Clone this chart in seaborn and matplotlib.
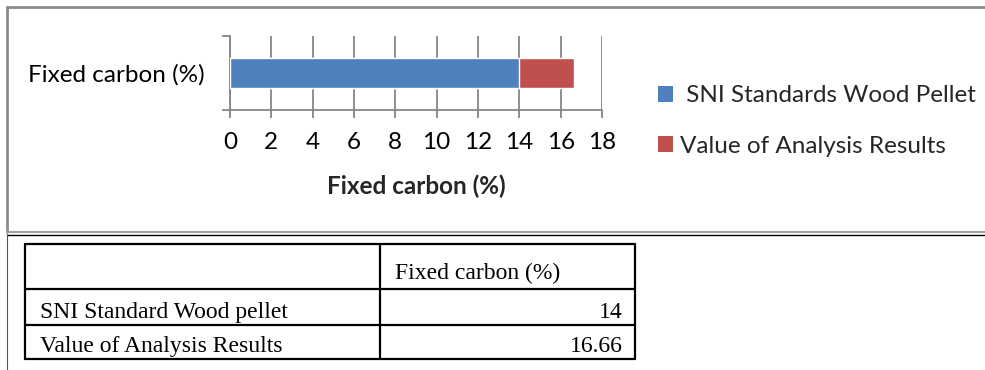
import matplotlib
matplotlib.use("Agg")
import matplotlib.pyplot as plt
from matplotlib.lines import Line2D
from matplotlib.patches import Patch
import seaborn as sns
import pandas as pd

# ---- data ----
category = ["Fixed carbon (%)"]
series = ["SNI Standards Wood Pellet", "Value of Analysis Results"]
table_rows = ["SNI Standard Wood pellet", "Value of Analysis Results"]
values = [14, 16.66]
x_ticks = [0, 2, 4, 6, 8, 10, 12, 14, 16, 18]
colors = ["#4F81BD", "#C0504D"]

sns.set_theme(style="white")
plt.rcParams["font.family"] = ["Lato", "DejaVu Sans"]

W, H = 985, 370
fig = plt.figure(figsize=(W / 100, H / 100), dpi=100)


def fx(px):
    return px / W


def fy(py):
    return 1 - py / H


GRID = "#868686"
FS = 17.5

ax = fig.add_axes([fx(230), fy(110), (602 - 230) / W, (110 - 36) / H])

df = pd.DataFrame({"category": category * len(series), "series": series, "value": values})

# analysis result drawn first so the standard sits on top of it
for name, col in reversed(list(zip(series, colors))):
    sns.barplot(data=df[df["series"] == name], x="value", y="category", orient="h",
                color=col, saturation=1, width=0.405, errorbar=None, ax=ax, zorder=3)

ax.set_xlim(x_ticks[0], x_ticks[-1])
ax.set_ylim(0.5, -0.5)
ax.set_xticks(x_ticks)
ax.set_xticklabels([str(t) for t in x_ticks], fontsize=FS, color="black")
ax.set_yticks([0])
ax.set_yticklabels(category, fontsize=FS, color="black")
ax.set_yticks([-0.5, 0.5], minor=True)
ax.tick_params(axis="y", which="major", length=0, pad=18)
ax.tick_params(axis="y", which="minor", length=6, width=1.3, color=GRID, left=True)
ax.tick_params(axis="x", which="major", length=6, width=1.3, color=GRID, bottom=True, pad=10)
ax.set_ylabel("")
ax.set_xlabel("Fixed carbon (%)", fontsize=FS, fontweight="bold", labelpad=15)

ax.grid(False)
ax.xaxis.grid(True, color=GRID, lw=1.3, zorder=0)
ax.set_axisbelow(True)
for side in ["top", "right"]:
    ax.spines[side].set_visible(False)
for side in ["left", "bottom"]:
    ax.spines[side].set_color(GRID)
    ax.spines[side].set_linewidth(1.3)

handles = [Patch(facecolor=c, edgecolor="none") for c in colors]
labels = [" " + series[0], series[1]]
fig.legend(handles, labels, loc="center left", bbox_to_anchor=(fx(648), fy(121)),
           frameon=False, fontsize=FS, handlelength=0.62, handleheight=0.62,
           handletextpad=0.3, labelspacing=1.2, borderaxespad=0)

# ---- outer frame ----
frame = [
    ((7, 985), (7, 7), "#8c8c8c", 2.0),
    ((7, 7), (7, 232), "#8c8c8c", 2.0),
    ((7, 985), (232, 232), "#a0a0a0", 1.5),
    ((7, 985), (234.5, 234.5), "black", 1.0),
    ((7, 7), (234, 370), "#555555", 0.8),
]
for xs, ys, c, lw in frame:
    fig.add_artist(Line2D([fx(x) for x in xs], [fy(y) for y in ys], color=c, lw=lw))

# ---- data table ----
left, mid, right = 25, 380, 635
row_lines = [244, 289, 325, 359]
for y in row_lines:
    fig.add_artist(Line2D([fx(left), fx(right)], [fy(y), fy(y)], color="black", lw=1.6))
for x in (left, mid, right):
    fig.add_artist(Line2D([fx(x), fx(x)], [fy(row_lines[0]), fy(row_lines[-1])], color="black", lw=1.6))

serif = ["Liberation Serif", "DejaVu Serif"]
TFS = 17
fig.text(fx(395), fy(row_lines[1] - 10), category[0], family=serif, fontsize=TFS,
         ha="left", va="baseline", color="black")
for i, (name, v) in enumerate(zip(table_rows, values)):
    base = row_lines[i + 2] - 7
    fig.text(fx(40), fy(base), name, family=serif, fontsize=TFS, ha="left", va="baseline", color="black")
    fig.text(fx(right - 12), fy(base), f"{v:g}", family=serif, fontsize=TFS, ha="right",
             va="baseline", color="black")

fig.savefig("out.png", dpi=100)
